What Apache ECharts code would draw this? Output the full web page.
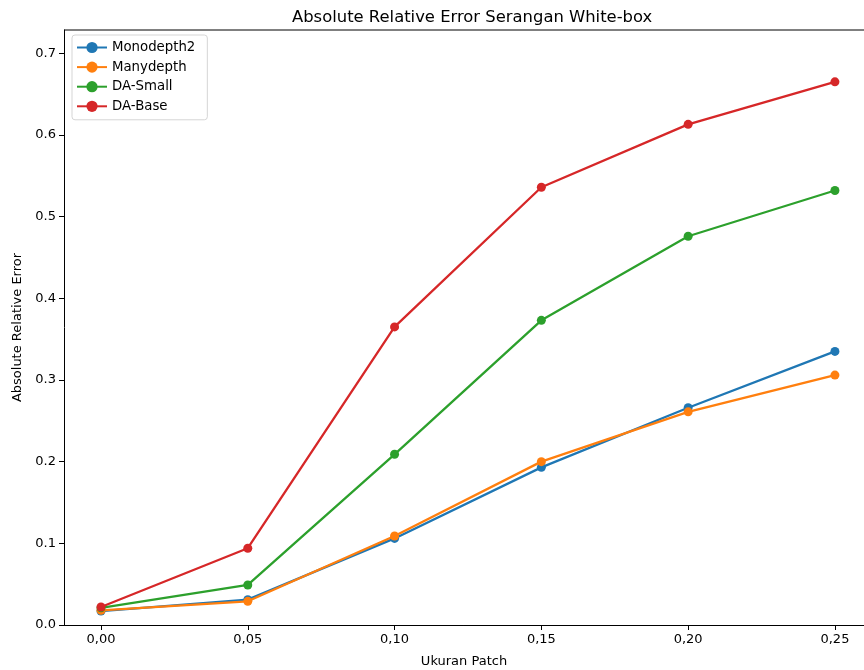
<!DOCTYPE html>
<html>
<head>
<meta charset="utf-8">
<script src="https://cdn.jsdelivr.net/npm/echarts@6/dist/echarts.min.js"></script>
<style>
  html, body { margin: 0; padding: 0; background: #fff; }
  #chart { width: 864px; height: 670px; }
</style>
</head>
<body>
<div id="chart"></div>
<script>
// ukuran patch (sumbu x)
const patchSizes = [0, 0.05, 0.10, 0.15, 0.20, 0.25]
const xTicks = [0, 0.05, 0.10, 0.15, 0.20, 0.25]
const yTicks = [0, 0.1, 0.2, 0.3, 0.4, 0.5, 0.6, 0.7]

const monodepth2 = [0.017, 0.031, 0.106, 0.193, 0.266, 0.335]
const manydepth = [0.018, 0.029, 0.109, 0.200, 0.261, 0.306]
const daSmall = [0.021, 0.049, 0.209, 0.373, 0.476, 0.532]
const daBase = [0.022, 0.094, 0.365, 0.536, 0.613, 0.665]

const seriesNames = ['Monodepth2', 'Manydepth', 'DA-Small', 'DA-Base']
const seriesValues = [monodepth2, manydepth, daSmall, daBase]
const colors = ['#1f77b4', '#ff7f0e', '#2ca02c', '#d62728']

const font = 'DejaVu Sans'
const yMax = 0.7285
let myChart = echarts.init(document.getElementById('chart'))

let option = {
  animation: false,
  color: colors,
  textStyle: { fontFamily: font },
  title: {
    text: 'Absolute Relative Error Serangan White-box',
    left: 287,
    top: 5,
    textStyle: { fontFamily: font, fontSize: 16.4, fontWeight: 'normal', color: '#000' }
  },
  legend: {
    orient: 'vertical',
    left: 72,
    top: 35,
    padding: [6, 12, 7, 4],
    itemGap: 6.6,
    itemWidth: 30,
    itemHeight: 14,
    borderColor: '#d5d5d5',
    borderWidth: 1,
    borderRadius: 3,
    textStyle: { fontFamily: font, fontSize: 13.3, color: '#000' },
    data: seriesNames
  },
  grid: { left: 64, right: 0, top: 30, bottom: 45, containLabel: false, outerBoundsMode: 'none' },
  xAxis: {
    type: 'value',
    min: -0.0126,
    max: 0.2599,
    name: 'Ukuran Patch',
    nameLocation: 'middle',
    nameGap: 30,
    nameTextStyle: { fontFamily: font, fontSize: 13, color: '#000' },
    axisLine: { show: true, onZero: false, lineStyle: { color: '#000', width: 1 } },
    axisTick: { show: true, length: 5, lineStyle: { color: '#000' }, customValues: xTicks },
    axisLabel: {
      fontFamily: font, fontSize: 13, color: '#000', margin: 8,
      customValues: xTicks,
      formatter: v => v.toFixed(2).replace('.', ',')
    },
    splitLine: { show: false }
  },
  yAxis: {
    type: 'value',
    min: 0,
    max: yMax,
    name: 'Absolute Relative Error',
    nameLocation: 'middle',
    nameGap: 37,
    nameTextStyle: { fontFamily: font, fontSize: 13, color: '#000' },
    axisLine: { show: true, onZero: false, lineStyle: { color: '#000', width: 1 } },
    axisTick: { show: true, length: 5, lineStyle: { color: '#000' }, customValues: yTicks },
    axisLabel: {
      fontFamily: font, fontSize: 13, color: '#000', margin: 8,
      customValues: yTicks,
      formatter: v => v.toFixed(1)
    },
    splitLine: { show: false }
  },
  series: seriesNames.map((name, i) => ({
    name: name,
    type: 'line',
    data: patchSizes.map((x, j) => [x, seriesValues[i][j]]),
    symbol: 'circle',
    symbolSize: 9,
    lineStyle: { width: 2.3, color: colors[i] },
    itemStyle: { color: colors[i] },
    z: 2 + i
  }))
}
myChart.setOption(option)

// spine atas
const topY = myChart.convertToPixel({ yAxisIndex: 0 }, yMax)
myChart.setOption({
  graphic: [{
    type: 'line',
    shape: { x1: 64, y1: topY, x2: 864, y2: topY },
    style: { stroke: '#000', lineWidth: 1 },
    silent: true
  }]
})
</script>
</body>
</html>
